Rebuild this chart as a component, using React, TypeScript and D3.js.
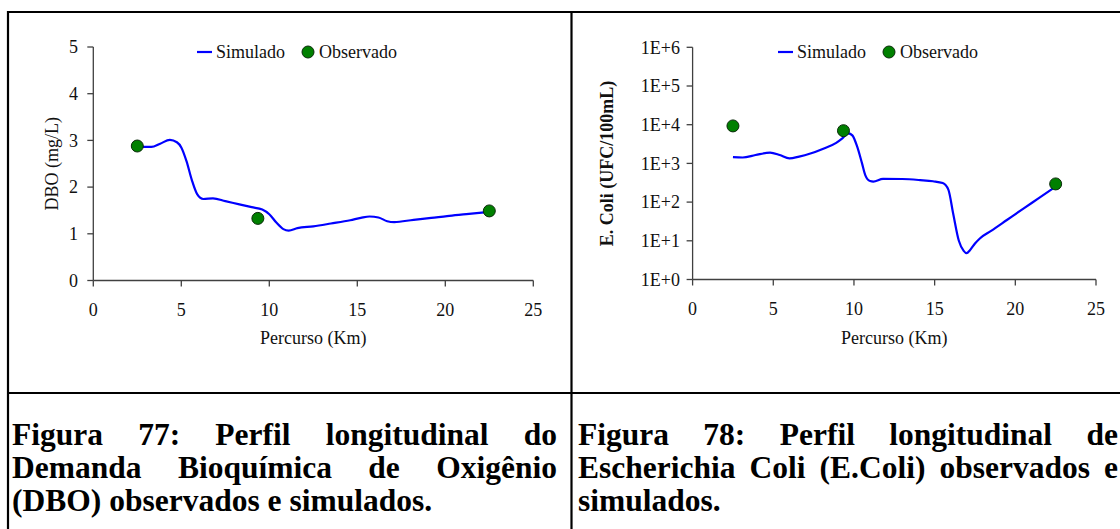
import React, { useEffect, useRef } from "react";
import * as d3 from "d3";

// ---------- DATA ----------
const dboSimKm = [2.5, 3.3, 3.8, 4.35, 4.75, 5.0, 5.3, 5.6, 5.9, 6.25, 6.8, 7.5, 8.3, 9.0, 9.6, 10.0, 10.4, 10.8, 11.1, 11.6, 12.5, 13.5, 14.6, 15.2, 15.7, 16.2, 16.7, 17.1, 18.2, 19.2, 20.1, 21.2, 22.5];
const dboSim = [2.86, 2.86, 2.93, 3.01, 2.96, 2.85, 2.55, 2.15, 1.85, 1.745, 1.76, 1.7, 1.63, 1.57, 1.52, 1.42, 1.24, 1.1, 1.07, 1.12, 1.16, 1.22, 1.29, 1.34, 1.37, 1.35, 1.27, 1.25, 1.3, 1.34, 1.38, 1.42, 1.47];
const dboObsKm = [2.5, 9.35, 22.5];
const dboObs = [2.88, 1.33, 1.49];

const ecoliSimKm = [2.5, 3.1, 3.9, 4.8, 5.4, 6.0, 6.6, 7.3, 8.1, 8.9, 9.3, 9.65, 9.9, 10.2, 10.5, 10.7, 11.0, 11.2, 11.8, 13.0, 14.1, 14.9, 15.5, 15.85, 16.15, 16.5, 16.8, 16.98, 17.2, 17.5, 17.8, 18.5, 19.5, 20.5, 21.5, 22.4];
const ecoliSim = [1450, 1420, 1650, 1900, 1650, 1350, 1500, 1800, 2400, 3400, 4500, 6000, 5300, 2700, 1000, 500, 350, 340, 400, 395, 370, 345, 310, 210, 50, 10, 5.5, 4.8, 5.8, 8.5, 11.5, 18, 35, 68, 130, 235];
const ecoliObsKm = [2.5, 9.35, 22.5];
const ecoliObs = [9300, 7000, 295];

const xTicks = [0, 5, 10, 15, 20, 25];
const dboTicks = [0, 1, 2, 3, 4, 5];
const ecoliTicks = [1, 10, 100, 1000, 10000, 100000, 1000000];
const ecoliTickLabels = ["1E+0", "1E+1", "1E+2", "1E+3", "1E+4", "1E+5", "1E+6"];

const legendLabels = ["Simulado", "Observado"];
const xTitle = "Percurso (Km)";
const dboTitle = "DBO (mg/L)";
const ecoliTitle = "E. Coli (UFC/100mL)";

const caption77 = ["Figura 77: Perfil longitudinal do", "Demanda Bioquímica de Oxigênio", "(DBO) observados e simulados."];
const caption78 = ["Figura 78: Perfil longitudinal de", "Escherichia Coli (E.Coli) observados e", "simulados."];

const FONT = "'Liberation Serif', 'Times New Roman', serif";
const AXIS = "#404040";

export default function App() {
  const ref = useRef<SVGSVGElement>(null);

  useEffect(() => {
    const svg = d3.select(ref.current);
    svg.selectAll("*").remove();

    // borders
    const g0 = svg.append("g").attr("stroke", "#000").attr("stroke-width", 2.2);
    g0.append("line").attr("x1", 7).attr("x2", 1120).attr("y1", 12).attr("y2", 12);
    g0.append("line").attr("x1", 8).attr("x2", 8).attr("y1", 11).attr("y2", 529);
    g0.append("line").attr("x1", 571.5).attr("x2", 571.5).attr("y1", 11).attr("y2", 529);
    g0.append("line").attr("x1", 7).attr("x2", 1120).attr("y1", 393).attr("y2", 393);

    type Panel = {
      x0: number; x1: number; y0: number; y1: number;
      yScale: any; yTicks: number[]; yLabels: string[];
      simKm: number[]; sim: number[]; obsKm: number[]; obs: number[];
      yTitle: string; yTitleBold: boolean; yTitleX: number; tickLabelX: number;
      legX: number;
    };

    const drawPanel = (p: Panel) => {
      const x = d3.scaleLinear().domain([0, 25]).range([p.x0, p.x1]);
      const y = p.yScale;
      const g = svg.append("g");
      // x axis
      g.append("line").attr("x1", p.x0).attr("x2", p.x1).attr("y1", p.y0).attr("y2", p.y0).attr("stroke", AXIS).attr("stroke-width", 1.3);
      xTicks.forEach((t) => {
        g.append("line").attr("x1", x(t)).attr("x2", x(t)).attr("y1", p.y0).attr("y2", p.y0 + 6).attr("stroke", AXIS).attr("stroke-width", 1.3);
        g.append("text").attr("x", x(t)).attr("y", p.y0 + 35).attr("text-anchor", "middle")
          .attr("font-family", FONT).attr("font-size", 18).attr("fill", "#111").text(String(t));
      });
      // y axis
      g.append("line").attr("x1", p.x0).attr("x2", p.x0).attr("y1", p.y1).attr("y2", p.y0).attr("stroke", AXIS).attr("stroke-width", 1.3);
      p.yTicks.forEach((t, i) => {
        g.append("line").attr("x1", p.x0 - 6).attr("x2", p.x0).attr("y1", y(t)).attr("y2", y(t)).attr("stroke", AXIS).attr("stroke-width", 1.3);
        g.append("text").attr("x", p.tickLabelX).attr("y", y(t)).attr("dy", "0.35em").attr("text-anchor", "end")
          .attr("font-family", FONT).attr("font-size", 18).attr("fill", "#111").text(p.yLabels[i]);
      });
      // titles
      g.append("text").attr("x", (p.x0 + p.x1) / 2).attr("y", 344).attr("text-anchor", "middle")
        .attr("font-family", FONT).attr("font-size", 18).attr("fill", "#111").text(xTitle);
      const cy = (p.y0 + p.y1) / 2;
      g.append("text").attr("transform", `translate(${p.yTitleX},${cy}) rotate(-90)`).attr("text-anchor", "middle")
        .attr("dy", "0.35em").attr("font-family", FONT).attr("font-size", 18)
        .attr("font-weight", p.yTitleBold ? "bold" : "normal").attr("fill", "#111").text(p.yTitle);
      // line
      const pts = p.simKm.map((k, i) => [x(k), y(p.sim[i])] as [number, number]);
      g.append("path").attr("d", d3.line().curve(d3.curveMonotoneX)(pts) as string)
        .attr("fill", "none").attr("stroke", "#0000ff").attr("stroke-width", 2.2);
      // obs
      p.obsKm.forEach((k, i) => {
        g.append("circle").attr("cx", x(k)).attr("cy", y(p.obs[i])).attr("r", 6)
          .attr("fill", "#008000").attr("stroke", "#0a2a0a").attr("stroke-width", 1);
      });
      // legend
      const ly = 52;
      g.append("line").attr("x1", p.legX).attr("x2", p.legX + 15).attr("y1", ly).attr("y2", ly).attr("stroke", "#0000ff").attr("stroke-width", 2.2);
      g.append("text").attr("x", p.legX + 19).attr("y", ly).attr("dy", "0.35em").attr("font-family", FONT).attr("font-size", 18).attr("fill", "#111").text(legendLabels[0]);
      g.append("circle").attr("cx", p.legX + 111).attr("cy", ly).attr("r", 6).attr("fill", "#008000").attr("stroke", "#0a2a0a").attr("stroke-width", 1);
      g.append("text").attr("x", p.legX + 122).attr("y", ly).attr("dy", "0.35em").attr("font-family", FONT).attr("font-size", 18).attr("fill", "#111").text(legendLabels[1]);
    };

    drawPanel({
      x0: 93.3, x1: 533.3, y0: 280.5, y1: 47,
      yScale: d3.scaleLinear().domain([0, 5]).range([280.5, 47]),
      yTicks: dboTicks, yLabels: dboTicks.map(String),
      simKm: dboSimKm, sim: dboSim, obsKm: dboObsKm, obs: dboObs,
      yTitle: dboTitle, yTitleBold: false, yTitleX: 52, tickLabelX: 78, legX: 197,
    });
    drawPanel({
      x0: 692.6, x1: 1096, y0: 279.5, y1: 47.3,
      yScale: d3.scaleLog().domain([1, 1e6]).range([279.5, 47.3]),
      yTicks: ecoliTicks, yLabels: ecoliTickLabels,
      simKm: ecoliSimKm, sim: ecoliSim, obsKm: ecoliObsKm, obs: ecoliObs,
      yTitle: ecoliTitle, yTitleBold: true, yTitleX: 607, tickLabelX: 680, legX: 778,
    });

    // captions (justified)
    const drawCaption = (lines: string[], x0: number, x1: number) => {
      const baselines = [445, 478, 511];
      lines.forEach((line, li) => {
        const words = line.split(" ");
        const els = words.map((w) =>
          svg.append("text").attr("y", baselines[li]).attr("font-family", FONT).attr("font-size", 31.5)
            .attr("font-weight", "bold").attr("fill", "#000").text(w)
        );
        const widths = els.map((e) => (e.node() as SVGTextElement).getComputedTextLength());
        const total = widths.reduce((a, b) => a + b, 0);
        const justify = li < lines.length - 1;
        const gap = justify ? (x1 - x0 - total) / (words.length - 1) : 7.9;
        let cx = x0;
        els.forEach((e, i) => {
          e.attr("x", cx);
          cx += widths[i] + gap;
        });
      });
    };
    drawCaption(caption77, 12, 557);
    drawCaption(caption78, 578, 1118);
  }, []);

  return (
    <svg ref={ref} width={1120} height={529} style={{ position: "absolute", left: 0, top: 0, background: "#fff", display: "block" }} />
  );
}
